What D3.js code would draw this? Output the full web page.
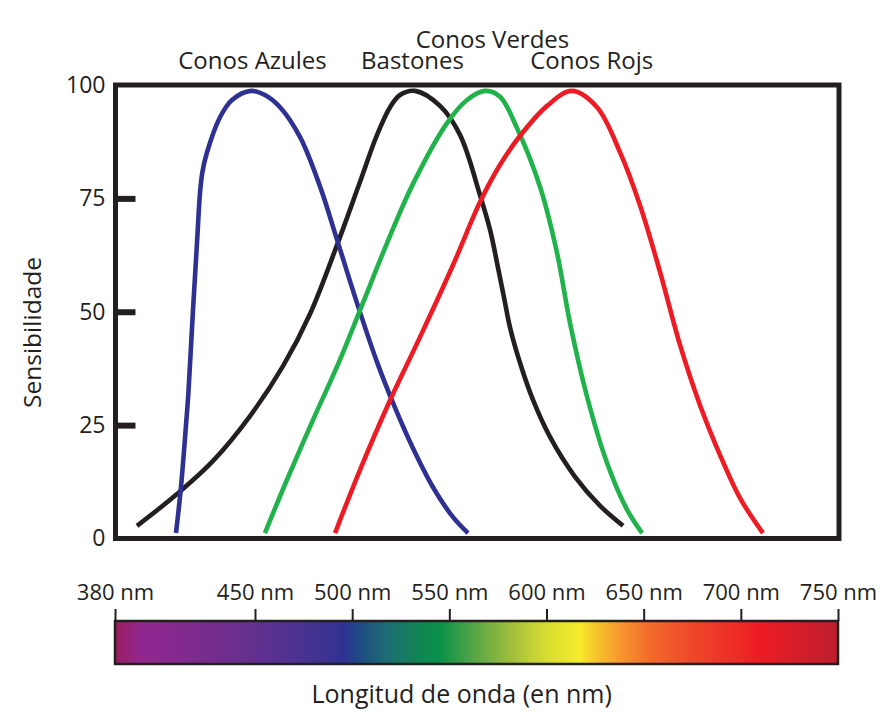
<!DOCTYPE html>
<html>
<head>
<meta charset="utf-8">
<script src="https://cdn.jsdelivr.net/npm/d3@7/dist/d3.min.js"></script>
<style>
    html, body { margin: 0; padding: 0; background: #fff; }
    svg { display: block; font-family: "Open Sans", "Noto Sans", sans-serif; }
</style>
</head>
<body>
<svg id="chart" width="887" height="724"></svg>
<script>
(function () {
    "use strict";

    // [wavelength nm, sensitivity]
    var blueCones = [[410.5, 1.2], [413, 11.4], [415.5, 25], [416.7, 32.1], [419, 50.4], [421, 65.2],
        [422.5, 76.2], [423.7, 80.8], [425.9, 85], [432.5, 92.9], [438.5, 96.7], [448, 98.7], [455.1, 97.8],
        [462.9, 95.1], [473.2, 88.5], [483.4, 77.7], [492.2, 65.9], [502.5, 51.9], [512.8, 38.9],
        [522.1, 28.8], [531.3, 19.9], [541.6, 11.3], [551.9, 4.7], [559.6, 1.2]];
    var rods = [[391, 2.8], [411, 9.8], [429, 17.1], [447.5, 27], [464.4, 38], [478.3, 49.5],
        [492.2, 64.7], [504, 78.6], [512.8, 89], [519.5, 95.1], [524.6, 97.8], [532.3, 98.7], [545.2, 95.4],
        [555.5, 89], [565.8, 75.7], [571, 68], [575.1, 59.6], [578.2, 53], [581.3, 46.4], [586.4, 38.7],
        [593.1, 30.5], [601.8, 22.4], [614.7, 13.6], [627.6, 7.2], [639.4, 2.8]];
    var greenCones = [[455.1, 1.2], [466.4, 12.9], [479.8, 26.1], [493.7, 39.4], [505.5, 51.9], [518, 65.2],
        [531.3, 78.2], [548.8, 91.6], [559.1, 96.7], [568.4, 98.7], [576.1, 97.4], [584.8, 90.5],
        [596.7, 77.5], [605.4, 63], [612.1, 47.5], [620.9, 31.2], [631.2, 16.6], [641.5, 6.3], [649.2, 1.2]];
    var redCones = [[491.2, 1.2], [504, 15.1], [519.5, 30.5], [534.9, 44.4], [551.9, 60.3], [565.8, 74.2],
        [576.1, 82.4], [586.4, 88.8], [600.3, 95.4], [613.1, 98.7], [626, 95.1], [637.8, 85.2], [648.1, 73.5],
        [658.4, 58.8], [668.7, 42.7], [679, 29.4], [689.3, 18.4], [699.6, 8.9], [711.4, 1.2]];

    var seriesNames = ["Conos Azules", "Bastones", "Conos Verdes", "Conos Rojs"];
    var seriesColors = ["#2e3192", "#231f20", "#21b24b", "#ed1c24"];
    var seriesValues = [blueCones, rods, greenCones, redCones];

    var sensTicks = [0, 25, 50, 75, 100];
    var waveTicks = [380, 450, 500, 550, 600, 650, 700, 750];

    // visible spectrum colour stops, nm
    var spectrumNm = [380, 392.5, 410, 450, 488.6, 496.3, 501.5, 516.9, 534.9, 545.2, 560.6, 581.2,
        599.2, 617.2, 625, 637.8, 653.3, 673.8, 709.9, 750];
    var spectrumColors = ["#9b1d5f", "#92278f", "#86298e", "#63308f", "#3b3391", "#2e3192", "#1f4687",
        "#1d6a74", "#118653", "#0b914a", "#4ca346", "#9dbd3c", "#d6dc32", "#f5eb2a", "#f8c72c", "#f6982d",
        "#f26a2c", "#ee4a2a", "#ed1c24", "#be1e2d"];

    var ink = "#231f20";
    var svg = d3.select("#chart");

    var x = d3.scaleLinear().domain([380, 450, 750]).range([115, 255, 838]);
    var y = d3.scaleLinear().domain([0, 100]).range([538.5, 85]);

    // curves
    var line = d3.line()
        .x(function (d) { return x(d[0]); })
        .y(function (d) { return y(d[1]); })
        .curve(d3.curveCatmullRom.alpha(0.5));

    var drawOrder = [1, 0, 2, 3];
    svg.append("g").selectAll("path")
        .data(drawOrder)
        .enter().append("path")
        .attr("d", function (i) { return line(seriesValues[i]); })
        .attr("fill", "none")
        .attr("stroke", function (i) { return seriesColors[i]; })
        .attr("stroke-width", 4.6);

    // frame
    svg.append("rect")
        .attr("x", x(380) + 0.5).attr("y", y(100))
        .attr("width", 839 - x(380) - 0.5).attr("height", y(0) - y(100))
        .attr("fill", "none").attr("stroke", ink).attr("stroke-width", 5);

    // y axis
    var yAxis = svg.append("g")
        .attr("transform", "translate(" + (x(380) + 0.5) + ",0)")
        .call(d3.axisLeft(y).tickValues(sensTicks).tickSize(-20).tickPadding(10));
    yAxis.select(".domain").remove();
    yAxis.selectAll(".tick line")
        .attr("stroke", ink).attr("stroke-width", 6)
        .attr("display", function (d) { return (d === 0 || d === 100) ? "none" : null; });
    yAxis.selectAll(".tick text")
        .attr("fill", ink).attr("font-size", 23).attr("font-family", "Open Sans");

    svg.append("text")
        .attr("transform", "translate(41," + 332.5 + ") rotate(-90)")
        .attr("text-anchor", "middle")
        .attr("fill", ink).attr("font-size", 24.5)
        .text("Sensibilidade");

    // curve labels
    var labelPos = [[252.5, 69], [412.5, 69], [492.5, 48], [591.7, 69]];
    svg.append("g").selectAll("text")
        .data(seriesNames)
        .enter().append("text")
        .attr("x", function (d, i) { return labelPos[i][0]; })
        .attr("y", function (d, i) { return labelPos[i][1]; })
        .attr("text-anchor", "middle")
        .attr("fill", ink).attr("font-size", 24)
        .text(function (d) { return d; });

    // spectrum bar
    var grad = svg.append("defs").append("linearGradient")
        .attr("id", "spectrum")
        .attr("x1", "0%").attr("x2", "100%").attr("y1", "0%").attr("y2", "0%");
    grad.selectAll("stop")
        .data(spectrumNm)
        .enter().append("stop")
        .attr("offset", function (d) { return ((x(d) - x(380)) / (x(750) - x(380)) * 100) + "%"; })
        .attr("stop-color", function (d, i) { return spectrumColors[i]; });

    svg.append("rect")
        .attr("x", x(380)).attr("y", 621)
        .attr("width", x(750) - x(380)).attr("height", 43)
        .attr("fill", "url(#spectrum)")
        .attr("stroke", ink).attr("stroke-width", 2.5);

    var xAxis = svg.append("g")
        .attr("transform", "translate(0,621)")
        .call(d3.axisTop(x).tickValues(waveTicks).tickSize(12).tickPadding(9)
            .tickFormat(function (d) { return d + " nm"; }));
    xAxis.select(".domain").remove();
    xAxis.selectAll(".tick line").attr("stroke", ink).attr("stroke-width", 2);
    xAxis.selectAll(".tick text")
        .attr("fill", ink).attr("font-size", 22).attr("font-family", "Open Sans");

    svg.append("text")
        .attr("x", 461.7).attr("y", 703)
        .attr("text-anchor", "middle")
        .attr("fill", ink).attr("font-size", 25)
        .text("Longitud de onda (en nm)");
})();
</script>
</body>
</html>
